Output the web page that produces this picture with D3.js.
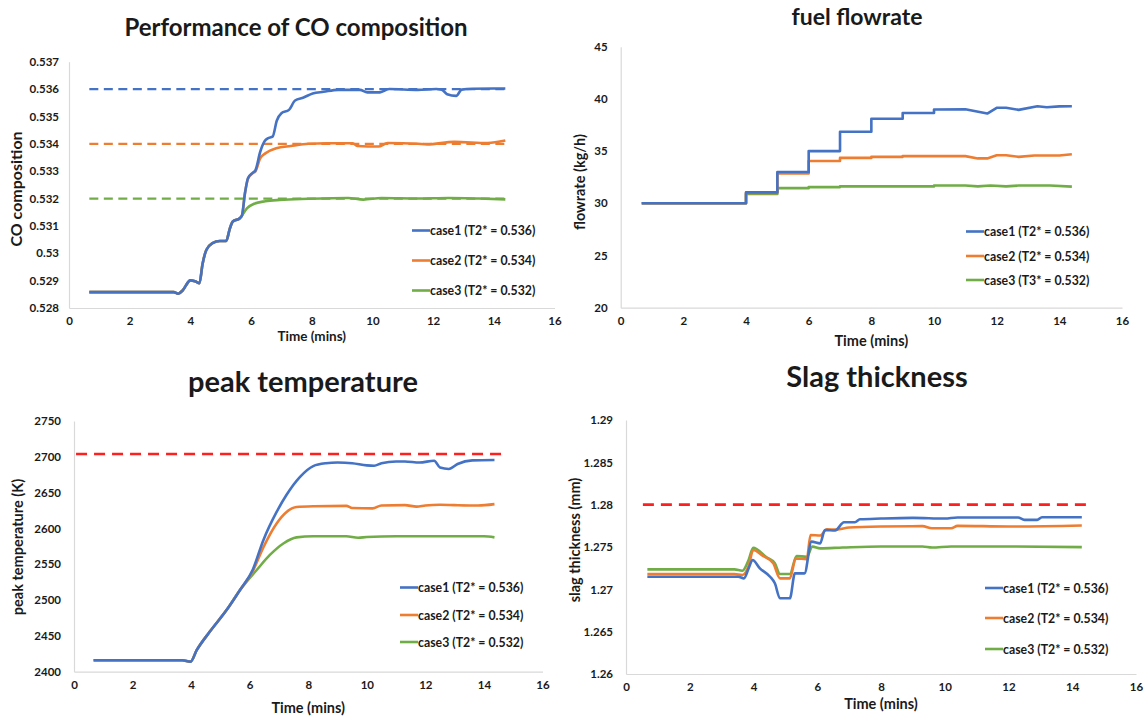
<!DOCTYPE html>
<html>
<head>
<meta charset="utf-8">
<script src="https://cdn.jsdelivr.net/npm/d3@7"></script>
<style>
  html, body { margin: 0; padding: 0; background: #fff; }
  svg { display: block; }
  text { font-family: Lato, "Open Sans", sans-serif; font-weight: bold; fill: #1a1a1a; }
</style>
</head>
<body>
<svg id="chart" width="1144" height="721"></svg>
<script>
// ---------------- DATA ----------------
const xTicks = [0, 2, 4, 6, 8, 10, 12, 14, 16];
const caseLabels = ["case1 (T2* = 0.536)", "case2 (T2* = 0.534)", "case3 (T2* = 0.532)"];
const flowLabels = ["case1 (T2* = 0.536)", "case2 (T2* = 0.534)", "case3 (T3* = 0.532)"];

// Panel 1: CO composition
const coTicks = [0.528, 0.529, 0.53, 0.531, 0.532, 0.533, 0.534, 0.535, 0.536, 0.537];
const coShared = [[0.67,0.52858],[3.45,0.52858],[3.6,0.52852],[3.75,0.52865],[4.0,0.52901],[4.15,0.52898],[4.3,0.52891],
  [4.4,0.5296],[4.53,0.53013],[4.73,0.53037],[4.97,0.53045],[5.18,0.53045],[5.3,0.5309],[5.4,0.53116],[5.63,0.53128]];
const coCase3 = coShared.concat([[5.87,0.53165],[6.1,0.53181],[6.47,0.5319],[6.95,0.53195],[7.9,0.53199],[9.2,0.53202],
  [9.7,0.53196],[10.3,0.53202],[11.5,0.532],[12.5,0.53202],[13.5,0.532],[14.38,0.53197]]);
const coCase2 = coShared.concat([[5.7,0.53138],[5.8,0.5322],[5.9,0.53272],[6.05,0.53292],[6.15,0.533],[6.3,0.53347],
  [6.47,0.53365],[6.83,0.53384],[7.31,0.53392],[7.9,0.534],[8.5,0.53402],[9.35,0.53402],[9.5,0.53392],[10.2,0.5339],
  [10.5,0.53403],[11.5,0.534],[11.8,0.53398],[12.7,0.53407],[13.8,0.53403],[14.38,0.53412]]);
const coCase1 = coShared.concat([[5.7,0.53138],[5.8,0.5322],[5.9,0.53275],[6.05,0.53294],[6.15,0.53305],[6.3,0.5337],
  [6.45,0.5341],[6.55,0.5342],[6.71,0.53426],[6.85,0.53485],[7.0,0.53512],[7.25,0.53524],[7.45,0.53558],[7.73,0.53569],
  [8.03,0.53584],[8.39,0.5359],[8.87,0.53597],[9.59,0.53597],[9.83,0.53588],[10.25,0.53588],[10.55,0.536],[11.5,0.53597],
  [12.1,0.536],[12.28,0.53598],[12.46,0.53581],[12.76,0.53575],[12.94,0.53598],[13.3,0.53601],[14.38,0.53602]]);
const coTargets = [0.536, 0.534, 0.532];
const coTargetSpan = [0.67, 14.38];

// Panel 2: fuel flowrate
const flowTicks = [20, 25, 30, 35, 40, 45];
const flowCase1 = [[0.67,30],[4,30],[4,31.05],[5,31.05],[5,33.0],[6,33.0],[6,35.0],[7,35.0],[7,36.85],[8,36.85],[8,38.1],
  [9,38.1],[9,38.65],[10,38.65],[10,38.98],[11,39.0],[11.7,38.6],[12,39.15],[12.3,39.15],[12.7,38.95],[13.3,39.3],
  [13.6,39.2],[14,39.28],[14.4,39.3]];
const flowCase2 = [[0.67,30],[4,30],[4,31.0],[5,31.0],[5,32.85],[6,32.85],[6,34.05],[7,34.05],[7,34.35],[8,34.35],[8,34.45],
  [9,34.45],[9,34.52],[11,34.52],[11.4,34.3],[11.7,34.3],[12,34.6],[12.3,34.6],[12.7,34.45],[13.2,34.58],[14,34.58],[14.4,34.7]];
const flowCase3 = [[0.67,30],[4,30],[4,30.9],[5,30.9],[5,31.45],[6,31.45],[6,31.55],[7,31.55],[7,31.62],[10,31.62],[10,31.7],
  [11,31.7],[11.4,31.62],[11.8,31.7],[12.3,31.62],[12.7,31.7],[13.7,31.7],[14.4,31.6]];

// Panel 3: peak temperature
const tempTicks = [2400, 2450, 2500, 2550, 2600, 2650, 2700, 2750];
const tempShared = [[0.67,2416],[3.7,2416],[3.98,2414],[4.19,2430],[4.64,2456],[5.21,2486],[5.67,2514]];
const tempCase1 = tempShared.concat([[6.1,2542],[6.47,2584],[6.92,2623],[7.26,2647],[7.72,2672],[8.17,2687],[8.6,2691],
  [9,2692],[9.5,2691],[10,2688],[10.25,2687.5],[10.5,2691],[11,2693.5],[11.3,2693.5],[11.8,2692],[12.3,2694.5],
  [12.5,2685],[12.8,2683],[13.1,2690],[13.6,2695],[14.36,2695.5]]);
const tempCase2 = tempShared.concat([[6.1,2540],[6.47,2574],[6.92,2607],[7.26,2623],[7.6,2630],[8.2,2631],[9.3,2631.5],
  [9.5,2628.5],[10.2,2628],[10.5,2632],[11.3,2632.5],[11.7,2630.5],[12,2632],[12.5,2633],[13,2632.5],[13.8,2632],[14.36,2634]]);
const tempCase3 = tempShared.concat([[6.24,2542],[6.69,2563],[7.15,2579],[7.6,2587.5],[8.17,2589],[9.3,2589],[9.7,2587],
  [10,2588],[11,2589],[12,2589],[13,2589],[14,2589],[14.36,2587.5]]);
const tempLimit = 2704;
const tempLimitSpan = [0.07, 14.8];

// Panel 4: slag thickness
const slagTicks = [1.26, 1.265, 1.27, 1.275, 1.28, 1.285, 1.29];
const slagCase1 = [[0.67,1.27149],[3.52,1.27149],[3.7,1.2713],[3.85,1.2725],[3.97,1.27347],[4.2,1.27248],[4.52,1.27149],
  [4.67,1.27071],[4.83,1.26894],[5.14,1.26894],[5.3,1.27189],[5.6,1.27189],[5.82,1.27563],[6.09,1.27543],[6.24,1.27701],
  [6.56,1.27695],[6.84,1.27792],[7.18,1.27792],[7.34,1.27827],[8,1.27836],[9,1.27844],[10,1.27836],[10.4,1.27848],
  [12.3,1.27848],[12.5,1.2782],[12.9,1.2782],[13.05,1.27852],[14.3,1.27852]];
const slagCase2 = [[0.67,1.27181],[3.4,1.27181],[3.65,1.2717],[3.85,1.2728],[3.99,1.27465],[4.3,1.27394],[4.62,1.27308],
  [4.83,1.2713],[5.14,1.2713],[5.33,1.27366],[5.67,1.27357],[5.79,1.27642],[6.09,1.27636],[6.3,1.27709],[6.61,1.27705],
  [7,1.2773],[8,1.27742],[9.3,1.27746],[9.6,1.27722],[10.2,1.27722],[10.4,1.2775],[12,1.27742],[14.3,1.27754]];
const slagCase3 = [[0.67,1.27236],[3.4,1.27236],[3.65,1.2722],[3.85,1.2735],[3.99,1.27492],[4.4,1.2738],[4.67,1.27308],
  [4.83,1.27181],[5.14,1.27181],[5.35,1.27394],[5.67,1.27385],[5.85,1.27504],[6.09,1.27484],[6.8,1.27494],[8,1.27506],
  [9.3,1.27506],[9.6,1.27494],[10.2,1.27506],[12,1.27506],[14.3,1.27498]];
const slagLimit = 1.28;
const slagLimitSpan = [0.53, 14.5];

// ---------------- DRAWING ----------------
const colors = ["#4472C4", "#ED7D31", "#70AD47"];
const svg = d3.select("#chart");

function drawPanel(cfg) {
  const x = d3.scaleLinear().domain([0, 16]).range([cfg.left, cfg.right]);
  const y = d3.scaleLinear().domain(cfg.yDomain).range([cfg.bottom, cfg.top]);
  const g = svg.append("g");

  const ax = g.append("g").attr("transform", `translate(0,${cfg.bottom})`)
    .call(d3.axisBottom(x).tickValues(xTicks).tickSize(0).tickPadding(9).tickFormat(d3.format("d")));
  const ay = g.append("g").attr("transform", `translate(${cfg.left},0)`)
    .call(d3.axisLeft(y).tickValues(cfg.yTicks).tickSize(0).tickPadding(cfg.yPad).tickFormat(d => String(d)));
  [ax, ay].forEach(a => {
    a.select(".domain").attr("stroke", "#d9d9d9").attr("stroke-width", 1.2);
    a.selectAll("text").attr("font-size", 11.5).attr("font-family", "Lato, sans-serif")
      .attr("font-weight", "bold").attr("fill", "#1a1a1a");
  });

  cfg.refs.forEach(r => {
    g.append("path")
      .datum([[r.span[0], r.value], [r.span[1], r.value]])
      .attr("d", d3.line().x(d => x(d[0])).y(d => y(d[1])))
      .attr("fill", "none").attr("stroke", r.color).attr("stroke-width", r.width)
      .attr("stroke-dasharray", r.dash);
  });

  const line = d3.line().x(d => x(d[0])).y(d => y(d[1])).curve(cfg.curve);
  cfg.series.slice().reverse().forEach((s, i) => {
    const idx = cfg.series.length - 1 - i;
    g.append("path").datum(s).attr("d", line)
      .attr("fill", "none").attr("stroke", colors[idx]).attr("stroke-width", 2.6)
      .attr("stroke-linejoin", "round");
  });

  g.append("text").attr("x", cfg.titleX).attr("y", cfg.titleY).attr("text-anchor", "middle")
    .attr("font-size", cfg.titleSize).text(cfg.title);
  g.append("text").attr("x", (cfg.left + cfg.right) / 2).attr("y", cfg.bottom + cfg.xTitleDy)
    .attr("text-anchor", "middle").attr("font-size", cfg.xTitleSize).text("Time (mins)");
  g.append("text").attr("transform", `translate(${cfg.yTitleX},${cfg.yTitleY}) rotate(-90)`)
    .attr("text-anchor", "middle").attr("dominant-baseline", "central")
    .attr("font-size", cfg.yTitleSize).text(cfg.yTitle);

  cfg.labels.forEach((lab, i) => {
    const ly = cfg.legendY[i];
    g.append("line").attr("x1", cfg.legendX).attr("x2", cfg.legendX + 18)
      .attr("y1", ly).attr("y2", ly).attr("stroke", colors[i]).attr("stroke-width", 2.6);
    g.append("text").attr("x", cfg.legendX + 18).attr("y", ly).attr("dominant-baseline", "central")
      .attr("font-size", 12.3).text(lab);
  });
}

const smooth = d3.curveMonotoneX;

drawPanel({
  left: 69, right: 554.5, top: 61.7, bottom: 308, yDomain: [0.528, 0.537], yTicks: coTicks, yPad: 10,
  series: [coCase1, coCase2, coCase3], curve: smooth,
  refs: coTargets.map((v, i) => ({ value: v, span: coTargetSpan, color: colors[i], width: 2.2, dash: "9,5.5" })),
  title: "Performance of CO composition", titleX: 296, titleY: 36, titleSize: 24,
  xTitleDy: 33, xTitleSize: 13.5, yTitle: "CO composition", yTitleX: 15, yTitleY: 189, yTitleSize: 16,
  labels: caseLabels, legendX: 412, legendY: [230.5, 260.5, 290.5]
});

drawPanel({
  left: 620.7, right: 1122, top: 46.7, bottom: 307.7, yDomain: [20, 45], yTicks: flowTicks, yPad: 13,
  series: [flowCase1, flowCase2, flowCase3], curve: d3.curveLinear,
  refs: [],
  title: "fuel flowrate", titleX: 857, titleY: 25, titleSize: 23,
  xTitleDy: 38, xTitleSize: 14.5, yTitle: "flowrate (kg/h)", yTitleX: 579, yTitleY: 182, yTitleSize: 14.5,
  labels: flowLabels, legendX: 966, legendY: [231.5, 256, 280]
});

drawPanel({
  left: 74, right: 542.5, top: 421, bottom: 671.7, yDomain: [2400, 2750], yTicks: tempTicks, yPad: 13,
  series: [tempCase1, tempCase2, tempCase3], curve: smooth,
  refs: [{ value: tempLimit, span: tempLimitSpan, color: "#FF1F1F", width: 2.6, dash: "11,7" }],
  title: "peak temperature", titleX: 303, titleY: 392, titleSize: 29,
  xTitleDy: 41, xTitleSize: 14.5, yTitle: "peak temperature (K)", yTitleX: 17, yTitleY: 547, yTitleSize: 14.5,
  labels: caseLabels, legendX: 400, legendY: [587.5, 615, 642]
});

drawPanel({
  left: 626, right: 1136, top: 420, bottom: 674, yDomain: [1.26, 1.29], yTicks: slagTicks, yPad: 13,
  series: [slagCase1, slagCase2, slagCase3], curve: smooth,
  refs: [{ value: slagLimit, span: slagLimitSpan, color: "#FF1F1F", width: 2.6, dash: "11,7" }],
  title: "Slag thickness", titleX: 877, titleY: 387, titleSize: 29,
  xTitleDy: 35, xTitleSize: 14.5, yTitle: "slag thickness (mm)", yTitleX: 574, yTitleY: 540, yTitleSize: 14.5,
  labels: caseLabels, legendX: 985, legendY: [588, 618, 649]
});
</script>
</body>
</html>
